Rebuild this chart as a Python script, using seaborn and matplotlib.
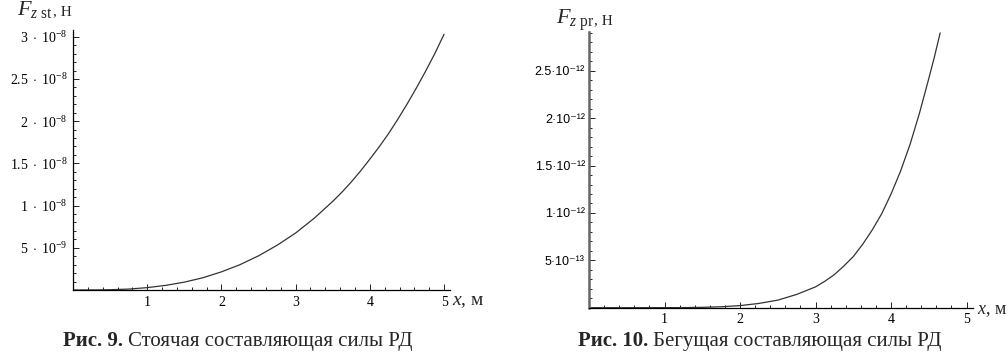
import numpy as np
import pandas as pd
import seaborn as sns
import matplotlib.pyplot as plt
from matplotlib.ticker import FixedLocator, MultipleLocator

# Settings
sns.set_style("white")
plt.rcParams["font.family"] = ["Liberation Serif", "DejaVu Serif"]
plt.rcParams["mathtext.fontset"] = "custom"
plt.rcParams["mathtext.rm"] = "Liberation Serif"
plt.rcParams["mathtext.it"] = "Liberation Serif:italic"
plt.rcParams["mathtext.bf"] = "Liberation Serif:bold"

# Data
x_st = [0, 0.25, 0.5, 0.75, 1, 1.25, 1.5, 1.75, 2, 2.25, 2.5, 2.75, 3,
        3.25, 3.5, 3.625, 3.75, 3.875, 4, 4.125, 4.25, 4.375, 4.5, 4.625, 4.75, 4.875, 5]
f_st = [0, 0.005, 0.03, 0.11, 0.28, 0.55, 0.93, 1.45, 2.15, 3.0, 4.05, 5.3, 6.75,
        8.5, 10.5, 11.6, 12.8, 14.1, 15.5, 16.95, 18.5, 20.2, 22.0, 23.9, 25.9, 28.0, 30.3]  # x 1e-9

x_pr = [0, 0.5, 1, 1.25, 1.5, 1.75, 2, 2.25, 2.5, 2.75, 3, 3.125,
        3.25, 3.375, 3.5, 3.625, 3.75, 3.875, 4, 4.125, 4.25, 4.375, 4.5, 4.575, 4.65]
f_pr = [0, 0.0, 0.0005, 0.001, 0.004, 0.01, 0.022, 0.045, 0.08, 0.14, 0.22, 0.28,
        0.35, 0.44, 0.54, 0.67, 0.82, 0.99, 1.2, 1.44, 1.72, 2.05, 2.42, 2.65, 2.90]  # x 1e-12

x_ticks = [1, 2, 3, 4, 5]
st_ticks = [5e-9, 1e-8, 1.5e-8, 2e-8, 2.5e-8, 3e-8]
st_labels = [r"$5\ \cdot\ 10^{-9}$", r"$1\ \cdot\ 10^{-8}$", r"$1.5\ \cdot\ 10^{-8}$",
             r"$2\ \cdot\ 10^{-8}$", r"$2.5\ \cdot\ 10^{-8}$", r"$3\ \cdot\ 10^{-8}$"]
pr_ticks = [5e-13, 1e-12, 1.5e-12, 2e-12, 2.5e-12]
pr_labels = ["5·10⁻¹³", "1·10⁻¹²", "1.5·10⁻¹²", "2·10⁻¹²", "2.5·10⁻¹²"]

df_st = pd.DataFrame({"x": x_st, "F": np.array(f_st) * 1e-9})
df_pr = pd.DataFrame({"x": x_pr, "F": np.array(f_pr) * 1e-12})

fig = plt.figure(figsize=(10.08, 3.54), dpi=100)
W, H = 1008, 354

ax1 = fig.add_axes([73 / W, (H - 290) / H, 377 / W, 260 / H])
ax2 = fig.add_axes([589 / W, (H - 307.7) / H, 384 / W, 275.7 / H])

sns.lineplot(data=df_st, x="x", y="F", ax=ax1, color="#333333", linewidth=0.9)
sns.lineplot(data=df_pr, x="x", y="F", ax=ax2, color="#333333", linewidth=0.9)

ax1.set_xlim(0, 5.08)
ax1.set_ylim(0, 3.08e-8)
ax2.set_xlim(0, 5.085)
ax2.set_ylim(0, 2.91e-12)

for ax in [ax1, ax2]:
    ax.set_xlabel("")
    ax.set_ylabel("")
    ax.spines["top"].set_visible(False)
    ax.spines["right"].set_visible(False)
    ax.xaxis.set_major_locator(FixedLocator(x_ticks))
    ax.xaxis.set_minor_locator(MultipleLocator(0.2))
    ax.set_xticklabels([str(t) for t in x_ticks], fontsize=10)
    ax.tick_params(which="both", direction="in", bottom=True, left=True,
                   top=False, right=False, colors="black", width=0.6)
    ax.tick_params(which="major", length=4, pad=4)
    ax.tick_params(which="minor", length=2.2)

ax1.spines["left"].set_linewidth(0.9)
ax1.spines["bottom"].set_linewidth(0.9)
ax1.spines["left"].set_color("black")
ax1.spines["bottom"].set_color("black")
ax2.spines["left"].set_linewidth(1.8)
ax2.spines["left"].set_color("#666666")
ax2.spines["bottom"].set_linewidth(0.9)
ax2.spines["bottom"].set_color("black")

ax1.yaxis.set_major_locator(FixedLocator(st_ticks))
ax1.yaxis.set_minor_locator(MultipleLocator(1e-9))
ax1.set_yticklabels(st_labels, fontsize=10)

ax2.yaxis.set_major_locator(FixedLocator(pr_ticks))
ax2.yaxis.set_minor_locator(MultipleLocator(1e-13))
ax2.set_yticklabels(pr_labels, fontsize=9, family=["Liberation Sans", "DejaVu Sans"])
ax2.tick_params(axis="y", pad=3)

renderer = fig.canvas.get_renderer()


def text_after(first, s, gap=3, **kw):
    # place a text right after another one on the same baseline
    bb = first.get_window_extent(renderer=renderer)
    x0, y0 = first.get_position()
    return fig.text((bb.x1 + gap) / W, y0, s, va="baseline", **kw)


# Axis labels (Mathematica style)
f1 = fig.text(17 / W, 1 - 15 / H, r"$F_{z\ \mathrm{st}}$", fontsize=16, va="baseline")
text_after(f1, ", Н", gap=0, fontsize=11)
f2 = fig.text(556 / W, 1 - 24 / H, r"$F_{z\ \mathrm{pr}}$", fontsize=16, va="baseline")
text_after(f2, ", Н", gap=0, fontsize=11)

fig.text(452 / W, 1 - 305 / H, r"$x$, м", fontsize=14, va="baseline")
fig.text(977 / W, 1 - 314 / H, r"$x$, м", fontsize=13, va="baseline")

# Captions
c1 = fig.text(63 / W, 1 - 346 / H, "Рис. 9.", fontsize=15, fontweight="bold", va="baseline")
text_after(c1, "Стоячая составляющая силы РД", gap=5, fontsize=15)
c2 = fig.text(578 / W, 1 - 346 / H, "Рис. 10.", fontsize=15, fontweight="bold", va="baseline")
text_after(c2, "Бегущая составляющая силы РД", gap=5, fontsize=15)

plt.savefig("out.png", dpi=100)
